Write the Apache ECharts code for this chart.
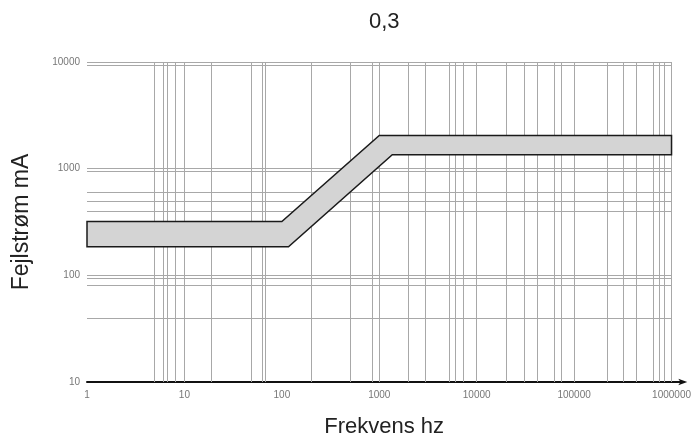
<!DOCTYPE html>
<html>
<head>
<meta charset="utf-8">
<script src="https://cdn.jsdelivr.net/npm/echarts@6/dist/echarts.min.js"></script>
<style>
html,body{margin:0;padding:0;background:#fff;}
#chart{width:694px;height:445px;}
</style>
</head>
<body>
<div id="chart"></div>
<script>
// Band outline (frequency Hz, fault current mA)
const bandX = [1, 100, 1000, 1000000, 1000000, 1360, 117, 1, 1];
const bandY = [320, 320, 2050, 2050, 1350, 1350, 185, 185, 320];

// Axis tick labels
const xTickLabels = ['1', '10', '100', '1000', '10000', '100000', '1000000'];
const yTickLabels = ['10', '100', '1000', '10000'];

// Printed grid lines (as they appear on the scanned chart)
const xGridLines = [4.9, 6, 6.7, 8, 10, 19, 49, 63, 68, 200, 500, 850, 1000, 2000, 3000, 5200, 6000, 7200, 10000, 20000, 31000, 42000, 63000, 73000, 100000, 220000, 316000, 434000, 645000, 755000, 850000, 1000000];
const yGridLines = [10000, 9400, 1000, 940, 600, 500, 400, 100, 94, 80, 40];

const chart = echarts.init(document.getElementById('chart'));

const gridLineData = [];
xGridLines.forEach(v => gridLineData.push([{coord: [v, 10]}, {coord: [v, 10000]}]));
yGridLines.forEach(v => gridLineData.push([{coord: [1, v]}, {coord: [1000000, v]}]));

const FONT = 'Liberation Sans, Arial, sans-serif';

chart.setOption({
  animation: false,
  title: {
    text: '0,3',
    left: 364,
    top: 6,
    textStyle: {fontFamily: FONT, fontSize: 22, fontWeight: 'normal', color: '#222'}
  },
  grid: {left: 87, right: 12, top: 62, bottom: 63},
  xAxis: {
    type: 'log',
    logBase: 10,
    min: 1,
    max: Math.pow(10, 6.1),
    name: 'Frekvens hz',
    nameLocation: 'middle',
    nameGap: 34,
    nameTextStyle: {fontFamily: FONT, fontSize: 22, color: '#222'},
    axisLine: {
      show: true,
      lineStyle: {color: '#111', width: 2},
      symbol: ['none', 'arrow'],
      symbolSize: [5, 9],
      symbolOffset: [0, 6]
    },
    axisTick: {show: false},
    splitLine: {show: false},
    axisLabel: {
      fontFamily: FONT,
      fontSize: 10,
      color: '#777',
      margin: 8,
      showMaxLabel: false,
      formatter: function (v) {
        const e = Math.round(Math.log10(v));
        if (Math.abs(Math.log10(v) - e) > 1e-6) return '';
        return xTickLabels[e] !== undefined ? xTickLabels[e] : '';
      }
    }
  },
  yAxis: {
    type: 'log',
    logBase: 10,
    min: 10,
    max: 10000,
    name: 'Fejlstrøm mA',
    nameLocation: 'middle',
    nameGap: 54,
    nameTextStyle: {fontFamily: FONT, fontSize: 23, color: '#222'},
    axisLine: {show: false},
    axisTick: {show: false},
    splitLine: {show: false},
    axisLabel: {
      fontFamily: FONT,
      fontSize: 10,
      color: '#777',
      margin: 7,
      formatter: function (v) {
        const e = Math.round(Math.log10(v));
        return yTickLabels[e - 1] !== undefined ? yTickLabels[e - 1] : '';
      }
    }
  },
  series: [
    {
      type: 'line',
      data: [],
      z: 1,
      silent: true,
      markLine: {
        silent: true,
        symbol: ['none', 'none'],
        label: {show: false},
        lineStyle: {color: '#a8a8a8', width: 1, type: 'solid'},
        emphasis: {disabled: true},
        animation: false,
        data: gridLineData
      }
    },
    {
      type: 'custom',
      z: 5,
      silent: true,
      data: bandX.map((x, i) => [x, bandY[i]]),
      renderItem: function (params, api) {
        if (params.dataIndex !== 0) return null;
        const pts = bandX.map((x, i) => api.coord([x, bandY[i]]));
        return {
          type: 'polygon',
          shape: {points: pts},
          style: {fill: '#d4d4d4', stroke: '#1a1a1a', lineWidth: 1.5}
        };
      }
    }
  ]
});
</script>
</body>
</html>
